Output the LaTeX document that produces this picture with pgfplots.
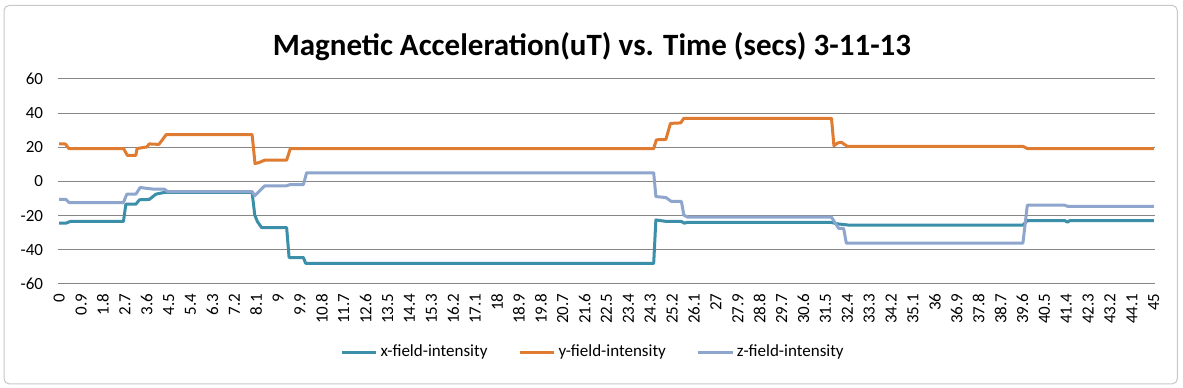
\documentclass[border=0pt]{standalone}
\usepackage{fontspec}
\setmainfont{Carlito}
\usepackage{pgfplots}
\pgfplotsset{compat=1.18}
\definecolor{cx}{RGB}{59,143,168}
\definecolor{cy}{RGB}{224,124,50}
\definecolor{cz}{RGB}{142,166,206}
\definecolor{gridc}{RGB}{134,134,134}
\definecolor{framec}{RGB}{200,200,200}
\begin{document}
\begin{tikzpicture}
\fill[white] (0,0) rectangle (887.25pt,291pt);
\draw[draw=framec, line width=0.75pt, rounded corners=4pt] (3pt,3pt) rectangle (883pt,287pt);
\node[anchor=base, inner sep=0pt, font=\fontsize{23.25}{28}\selectfont\bfseries] at (444pt,249pt) {Magnetic Acceleration(uT) vs. Time (secs) 3-11-13};
\begin{axis}[
  at={(43.5pt,78pt)}, anchor=south west, scale only axis,
  width=822.75pt, height=153.75pt,
  xmin=-0.05, xmax=45.05, ymin=-60, ymax=60,
  ytick={-60,-40,-20,0,20,40,60},
  ymajorgrids, major grid style={draw=gridc, line width=0.75pt},
  axis line style={draw=none}, tick style={draw=none},
  /pgf/number format/assume math mode=true,
  tick label style={font=\fontsize{12.75}{15}\selectfont, inner sep=0pt},
  xtick={0,0.9,1.8,2.7,3.6,4.5,5.4,6.3,7.2,8.1,9,9.9,10.8,11.7,12.6,13.5,14.4,15.3,16.2,17.1,18,18.9,19.8,20.7,21.6,22.5,23.4,24.3,25.2,26.1,27,27.9,28.8,29.7,30.6,31.5,32.4,33.3,34.2,35.1,36,36.9,37.8,38.7,39.6,40.5,41.4,42.3,43.2,44.1,45},
  xticklabels={0,0.9,1.8,2.7,3.6,4.5,5.4,6.3,7.2,8.1,9,9.9,10.8,11.7,12.6,13.5,14.4,15.3,16.2,17.1,18,18.9,19.8,20.7,21.6,22.5,23.4,24.3,25.2,26.1,27,27.9,28.8,29.7,30.6,31.5,32.4,33.3,34.2,35.1,36,36.9,37.8,38.7,39.6,40.5,41.4,42.3,43.2,44.1,45},
  xticklabel style={rotate=90, anchor=east},
  xticklabel shift=7pt,
  yticklabel style={anchor=east, xshift=-11pt},
  legend style={at={(0.488,-0.332)}, anchor=center, draw=none, fill=none,
    legend columns=3, font=\fontsize{12.75}{15}\selectfont,
    /tikz/every even column/.append style={column sep=21pt}},
  legend image code/.code={\draw[#1] (0pt,0pt) -- (26pt,0pt);},
  every axis plot/.append style={line width=2.25pt, line join=round, mark=none},
]
\addplot[cx] coordinates {(0,-24.4)(0.28,-24.4)(0.45,-23.4)(2.64,-23.4)(2.74,-13.3)(3.15,-13.3)(3.3,-10.7)(3.7,-10.5)(3.98,-7.4)(4.32,-6.4)(7.93,-6.4)(8.04,-19.7)(8.15,-23.5)(8.32,-27)(9.35,-27)(9.45,-44.5)(10.04,-44.5)(10.13,-47.9)(24.44,-47.9)(24.53,-22.5)(24.97,-23.4)(25.58,-23.4)(25.7,-24.4)(25.8,-24)(31.75,-24)(32.0,-24.8)(32.5,-25.6)(39.62,-25.6)(39.8,-22.9)(41.34,-22.9)(41.45,-23.8)(41.55,-22.9)(45,-22.9)};
\addlegendentry{x-field-intensity}
\addplot[cy] coordinates {(0,22)(0.25,22)(0.4,19.2)(2.65,19.2)(2.8,15.3)(3.15,15.3)(3.2,19.3)(3.5,20)(3.6,20.2)(3.7,22)(4.1,21.7)(4.4,27.5)(7.93,27.5)(8.05,10.5)(8.2,11)(8.45,12.5)(9.35,12.5)(9.5,19.2)(24.44,19.2)(24.55,24.4)(24.94,24.6)(25.13,34)(25.55,34.3)(25.68,37)(31.75,37)(31.85,20.9)(32.0,22.5)(32.15,23)(32.4,20.6)(39.62,20.6)(39.8,19.3)(45,19.3)};
\addlegendentry{y-field-intensity}
\addplot[cz] coordinates {(0,-10.5)(0.28,-10.5)(0.4,-12.3)(2.64,-12.3)(2.78,-7.4)(3.15,-7.4)(3.33,-3.5)(3.63,-4.1)(3.9,-4.5)(4.32,-4.5)(4.46,-5.9)(7.93,-5.9)(8.04,-8.4)(8.45,-2.5)(9.35,-2.5)(9.5,-1.8)(10.04,-1.8)(10.17,5.1)(24.44,5.1)(24.53,-8.8)(24.94,-9.4)(25.17,-11.7)(25.58,-11.7)(25.68,-19.7)(25.85,-20.9)(31.75,-20.9)(32.05,-27.5)(32.25,-27.5)(32.36,-36.1)(39.62,-36.1)(39.8,-13.9)(41.34,-13.9)(41.45,-14.5)(45,-14.5)};
\addlegendentry{z-field-intensity}
\end{axis}
\end{tikzpicture}
\end{document}
